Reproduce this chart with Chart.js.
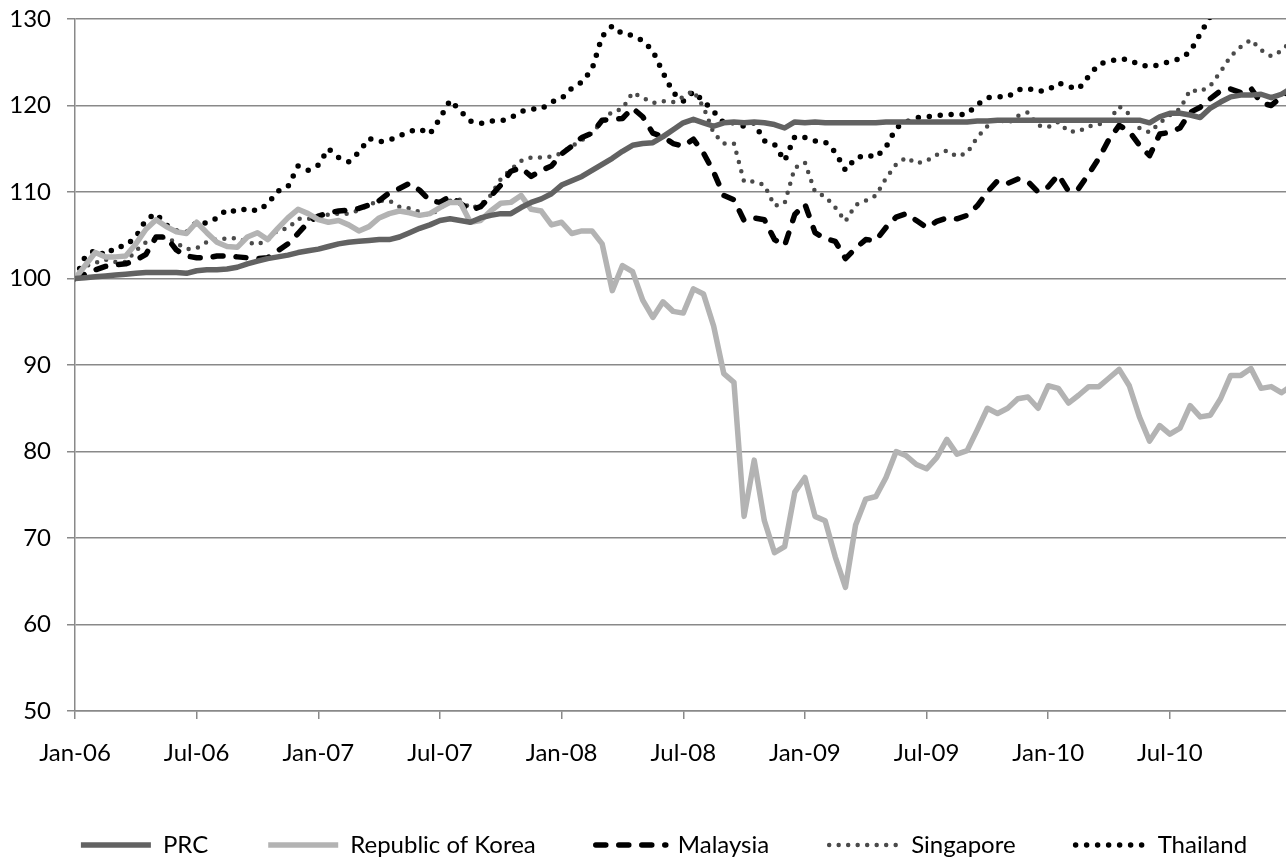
<!DOCTYPE html>
<html>
<head>
<meta charset="utf-8">
<title>Exchange rate index</title>
<script src="https://cdn.jsdelivr.net/npm/chart.js@4"></script>
<style>
  html, body { margin: 0; padding: 0; overflow: hidden; background: #fff; }
  #myChart { display: block; }
</style>
</head>
<body>
<canvas id="myChart" width="1328" height="867"></canvas>
<script>
// half-monthly readings, Jan-06 = 0 (months)
const tickLabels = ["Jan-06", "Jul-06", "Jan-07", "Jul-07", "Jan-08", "Jul-08", "Jan-09", "Jul-09", "Jan-10", "Jul-10"];
const seriesNames = ["PRC", "Republic of Korea", "Malaysia", "Singapore", "Thailand"];

const prc = [100, 100.1, 100.2, 100.3, 100.4, 100.5, 100.6, 100.7, 100.7, 100.7, 100.7, 100.6, 100.9, 101, 101, 101.1, 101.3, 101.7, 102, 102.3,
  102.5, 102.7, 103, 103.2, 103.4, 103.7, 104, 104.2, 104.3, 104.4, 104.5, 104.5, 104.8, 105.3, 105.8, 106.2, 106.7, 106.9, 106.7, 106.5,
  107, 107.3, 107.5, 107.5, 108.2, 108.8, 109.2, 109.8, 110.8, 111.3, 111.8, 112.5, 113.2, 113.9, 114.7, 115.4, 115.6, 115.7, 116.4, 117.2,
  118, 118.4, 118, 117.6, 118, 118.1, 118, 118.1, 118, 117.8, 117.4, 118.1, 118, 118.1, 118, 118, 118, 118, 118, 118,
  118.1, 118.1, 118.1, 118.1, 118.1, 118.1, 118.1, 118.1, 118.1, 118.2, 118.2, 118.3, 118.3, 118.3, 118.3, 118.3, 118.3, 118.3, 118.3, 118.3,
  118.3, 118.3, 118.3, 118.3, 118.3, 118.3, 118, 118.7, 119.1, 119.1, 118.9, 118.6, 119.7, 120.4, 121, 121.2, 121.2, 121.3, 120.9, 121.3, 122];

const korea = [100, 101.5, 103, 102.5, 102.5, 102.6, 104, 105.7, 106.8, 106, 105.4, 105.2, 106.5, 105.3, 104.2, 103.7, 103.6, 104.8, 105.3, 104.5,
  105.8, 107, 108, 107.5, 106.8, 106.5, 106.7, 106.2, 105.5, 106, 107, 107.5, 107.8, 107.6, 107.3, 107.5, 108.2, 108.8, 108.8, 106.5,
  106.7, 107.8, 108.7, 108.8, 109.6, 108, 107.8, 106.2, 106.5, 105.2, 105.5, 105.5, 104, 98.6, 101.5, 100.8, 97.5, 95.5, 97.3, 96.2,
  96, 98.8, 98.2, 94.5, 89, 88, 72.5, 79, 72, 68.3, 69, 75.3, 77, 72.5, 72, 67.8, 64.3, 71.5, 74.5, 74.8,
  77, 80, 79.5, 78.5, 78, 79.3, 81.4, 79.7, 80.1, 82.5, 85, 84.4, 85, 86.1, 86.3, 85, 87.6, 87.3, 85.6, 86.5,
  87.5, 87.5, 88.5, 89.5, 87.6, 84, 81.2, 83, 82, 82.7, 85.3, 84, 84.2, 86.1, 88.8, 88.8, 89.6, 87.3, 87.5, 86.8, 87.6];

const malaysia = [100, 100.5, 101, 101.4, 101.6, 101.7, 102.1, 102.8, 104.8, 104.8, 103.3, 102.6, 102.4, 102.4, 102.6, 102.6, 102.5, 102.4, 102.3, 102.4,
  103.2, 104, 105.2, 106.5, 107.2, 107.6, 107.8, 107.9, 108.1, 108.5, 109, 109.9, 110.4, 111, 110.2, 109, 108.8, 109.5, 108.7, 107.9,
  108.3, 109.5, 110.8, 112.4, 112.8, 111.8, 112.5, 113, 114.4, 115.3, 116.3, 116.8, 118.3, 118.4, 118.5, 119.7, 118.7, 116.8, 116.4, 115.6,
  115.3, 116.1, 114.5, 112.3, 109.6, 109.1, 106.7, 107, 106.8, 104.5, 103.8, 107.4, 108.6, 105.3, 104.6, 104.3, 102.3, 103.5, 104.5, 104.4,
  105.9, 107.1, 107.5, 106.7, 105.9, 106.6, 107, 106.9, 107.3, 108.4, 110, 111.3, 111, 111.5, 111.2, 110, 110.6, 112, 110.1, 110.4,
  112.1, 113.9, 116.1, 117.7, 117, 115.4, 114.2, 116.7, 116.9, 117.4, 119.2, 119.8, 120.8, 121.7, 121.9, 121.5, 122, 120.3, 120, 121, 122];

const singapore = [100, 101.4, 101.8, 102.2, 101.9, 101.9, 103.2, 104.2, 104.6, 104.8, 104.1, 103.4, 103.5, 104.2, 104.6, 104.6, 104.7, 104.2, 103.9, 104.5,
  105.6, 105.8, 106.9, 106.9, 107.1, 107.4, 107.5, 107.5, 107.9, 108.5, 109, 109, 108.3, 108.1, 107.7, 107.3, 108.1, 109, 109.1, 108.1,
  108.5, 109.6, 111.5, 112.6, 113.6, 114, 114, 114.1, 114.5, 115.3, 116, 116.8, 118.2, 119.3, 119.6, 121.5, 120.9, 120.3, 120.5, 120.4,
  121, 121.7, 119.8, 116.8, 115.6, 115.6, 111.2, 111.2, 110.8, 108.4, 108.7, 112.8, 113.4, 110, 109.5, 108.2, 106.6, 108.5, 109, 109.6,
  111.6, 113.2, 114, 113.3, 113.6, 114.3, 114.8, 114.1, 114.5, 116.3, 117.6, 118.5, 117.9, 118.8, 119.2, 117.7, 117.5, 118.1, 117, 117,
  117.6, 117.8, 118.3, 119.9, 119, 117.4, 116.9, 118, 118.9, 119.6, 121.8, 121.6, 122.3, 123.9, 125.7, 126.8, 127.6, 126.4, 125.7, 126.3, 127.5];

const thailand = [100, 102.5, 103.3, 102.7, 103.6, 103.8, 104.8, 106.8, 107.5, 106.2, 105.5, 105.3, 106.5, 106.4, 107, 108, 107.7, 108.1, 107.8, 108.6,
  110.1, 110.6, 113, 112.5, 113.1, 115, 114, 113.5, 114.6, 116.2, 115.8, 116, 116.5, 117, 117.3, 116.7, 118.5, 120.6, 119.4, 118.2,
  117.9, 118.2, 118.2, 118.6, 119.3, 119.6, 119.6, 120.4, 120.8, 122, 122.7, 124.2, 128, 129.2, 128.3, 128.1, 127.5, 126.3, 123.8, 121.5,
  120.5, 121.6, 120.5, 119.3, 118, 118, 117.6, 118, 115.9, 115.5, 113.6, 116.4, 116.3, 115.9, 115.8, 114.6, 112.5, 113.9, 114.3, 114,
  115.2, 117.4, 118.1, 118.6, 118.7, 118.8, 119, 118.9, 119, 120.1, 120.9, 121, 121, 121.8, 122, 121.6, 121.8, 122.6, 122.2, 121.9,
  123.4, 124.8, 125.1, 125.4, 125.3, 124.7, 124.5, 124.7, 125.1, 125.4, 126.2, 128.3, 130.3, 131.5, 132, 132.5, 133, 133.2, 133.5, 134, 134.5];

const months = prc.map((v, i) => i / 2);

const gridColor = "#898989";
const fontFamily = "Lato, 'Open Sans', sans-serif";

const datasets = [
  { label: seriesNames[0], data: prc, borderColor: "#626262", borderWidth: 5.5 },
  { label: seriesNames[1], data: korea, borderColor: "#b3b3b3", borderWidth: 5.5 },
  { label: seriesNames[2], data: malaysia, borderColor: "#000000", borderWidth: 5.5, borderDash: [10, 13], borderCapStyle: "round" },
  { label: seriesNames[3], data: singapore, borderColor: "#4a4a4a", borderWidth: 4.5, borderDash: [0, 9.5], borderCapStyle: "round" },
  { label: seriesNames[4], data: thailand, borderColor: "#000000", borderWidth: 5.5, borderDash: [0, 11], borderCapStyle: "round" },
].map((d) => ({ ...d, pointRadius: 0, tension: 0, fill: false, borderJoinStyle: "round" }));

// legend symbols take the line style of each dataset
const legendLabels = (chart) => {
  const items = Chart.defaults.plugins.legend.labels.generateLabels(chart);
  return items.map((item) => {
    const ds = chart.data.datasets[item.datasetIndex];
    return {
      ...item,
      strokeStyle: ds.borderColor,
      lineWidth: ds.borderWidth,
      lineDash: ds.borderDash || [],
      lineCap: ds.borderCapStyle || "butt",
      pointStyle: "line",
    };
  });
};

const config = {
  type: "line",
  data: { labels: months, datasets },
  options: {
    responsive: false,
    animation: false,
    devicePixelRatio: 1,
    layout: { padding: { top: 19, left: 0, right: 0, bottom: 0 } },
    scales: {
      x: {
        type: "linear",
        min: 0,
        max: 61.8,
        grid: { drawOnChartArea: false, color: gridColor, tickLength: 8, lineWidth: 1.5 },
        border: { display: true, color: gridColor, width: 1.5 },
        ticks: {
          stepSize: 6,
          includeBounds: false,
          autoSkip: false,
          maxRotation: 0,
          padding: 20,
          color: "#000",
          font: { family: fontFamily, size: 24 },
          callback: (value) => tickLabels[value / 6],
        },
        afterFit: (scale) => { scale.height = 62; },
      },
      y: {
        min: 50,
        max: 130,
        grid: { color: gridColor, tickLength: 8, lineWidth: 1.5 },
        border: { display: true, color: gridColor, width: 1.5 },
        ticks: {
          stepSize: 10,
          padding: 16,
          color: "#000",
          font: { family: fontFamily, size: 24 },
        },
        afterFit: (scale) => {
          scale.width = 75;
          scale.paddingTop = 0;
          scale.paddingBottom = 0;
        },
      },
    },
    plugins: {
      tooltip: { enabled: false },
      legend: {
        position: "bottom",
        labels: {
          usePointStyle: true,
          pointStyle: "line",
          pointStyleWidth: 70,
          padding: 60,
          color: "#000",
          font: { family: fontFamily, size: 24 },
          generateLabels: legendLabels,
        },
      },
    },
  },
};

const chart = document.querySelector("#myChart");
const myChart = new Chart(chart, config);
</script>
</body>
</html>
